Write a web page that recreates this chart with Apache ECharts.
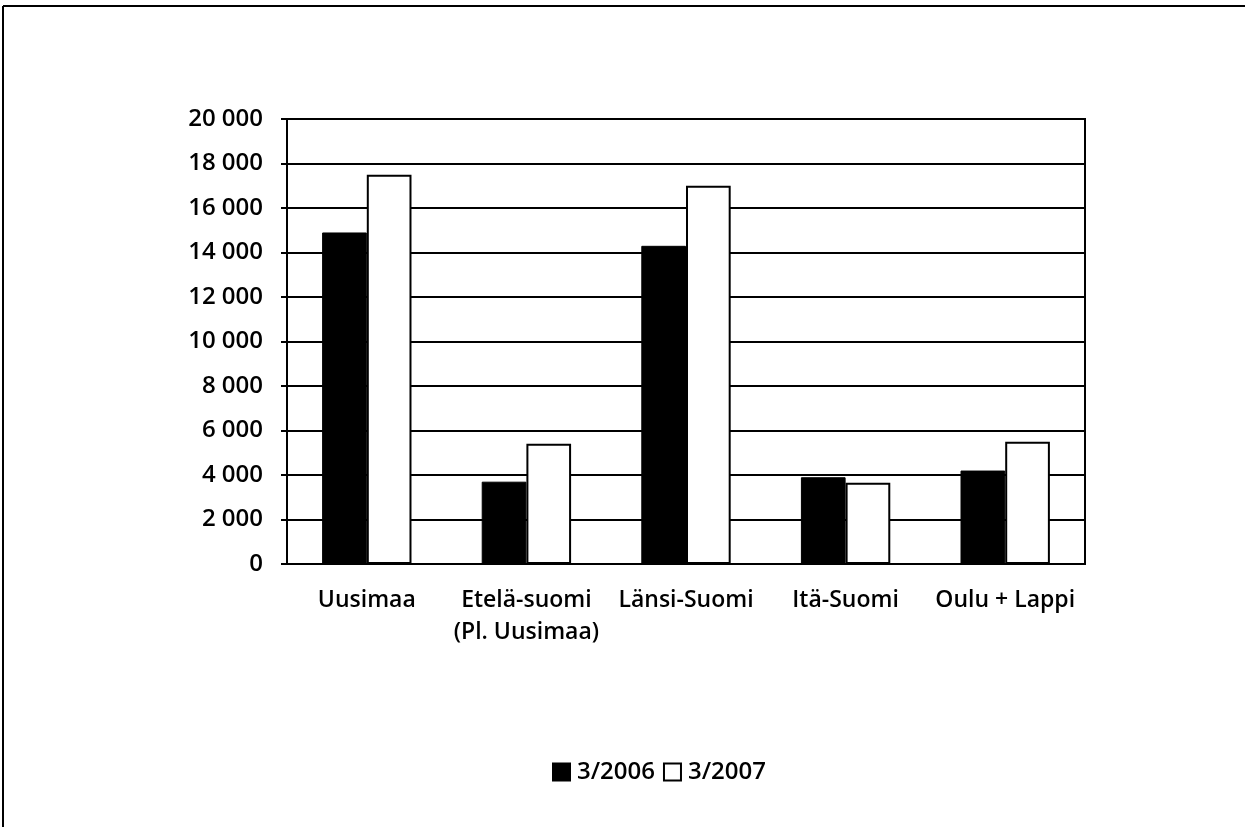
<!DOCTYPE html>
<html><head><meta charset="utf-8">
<script src="https://cdn.jsdelivr.net/npm/echarts@6/dist/echarts.min.js"></script>
<style>html,body{margin:0;padding:0;background:#fff}#c{width:1245px;height:827px}</style>
</head><body><div id="c"></div>
<script>
const categories = ['Uusimaa', 'Etelä-suomi\n(Pl. Uusimaa)', 'Länsi-Suomi', 'Itä-Suomi', 'Oulu + Lappi'];
const series2006 = [14900, 3700, 14300, 3900, 4200];
const series2007 = [17500, 5400, 17000, 3650, 5500];
const seriesNames = ['3/2006', '3/2007'];
const yTicks = {min: 0, max: 20000, interval: 2000};

const chart = echarts.init(document.getElementById('c'));
const font = 'Open Sans';
const fs = 23;
const fw = 600;
chart.setOption({
  animation: false,
  backgroundColor: '#fff',
  textStyle: {fontFamily: font, color: '#000'},
  grid: {left: 287, right: 160, top: 119, bottom: 263, show: true, borderColor: '#000', borderWidth: 2, backgroundColor: 'transparent'},
  legend: {
    bottom: 38, left: 547, itemWidth: 17, itemHeight: 17, itemGap: 8,
    icon: 'rect',
    textStyle: {fontFamily: font, fontSize: 24, fontWeight: fw, color: '#000', padding: [0, 0, 0, 2]},
    data: seriesNames
  },
  xAxis: {
    type: 'category', data: categories,
    axisLine: {lineStyle: {color: '#000', width: 2}},
    axisTick: {show: false},
    axisLabel: {fontFamily: font, fontSize: fs, fontWeight: fw, color: '#000', margin: 20, lineHeight: 32, interval: 0}
  },
  yAxis: {
    type: 'value', min: yTicks.min, max: yTicks.max, interval: yTicks.interval,
    axisLine: {show: true, lineStyle: {color: '#000', width: 2}},
    axisTick: {show: true, length: 6, lineStyle: {color: '#000', width: 2}},
    splitLine: {lineStyle: {color: '#000', width: 2}},
    axisLabel: {fontFamily: font, fontSize: 24, fontWeight: fw, color: '#000', margin: 24,
      formatter: v => String(v).replace(/\B(?=(\d{3})+(?!\d))/g, ' ')}
  },
  series: [
    {name: seriesNames[0], type: 'bar', data: series2006, barGap: '0%', barCategoryGap: '44%',
      itemStyle: {color: '#000', borderColor: '#000', borderWidth: 1}},
    {name: seriesNames[1], type: 'bar', data: series2007,
      itemStyle: {color: '#fff', borderColor: '#000', borderWidth: 2}}
  ],
  graphic: [
    {type: 'line', shape: {x1: 3, y1: 6, x2: 1245, y2: 6}, style: {stroke: '#000', lineWidth: 2}},
    {type: 'line', shape: {x1: 3, y1: 6, x2: 3, y2: 827}, style: {stroke: '#000', lineWidth: 2}}
  ]
});
</script></body></html>
